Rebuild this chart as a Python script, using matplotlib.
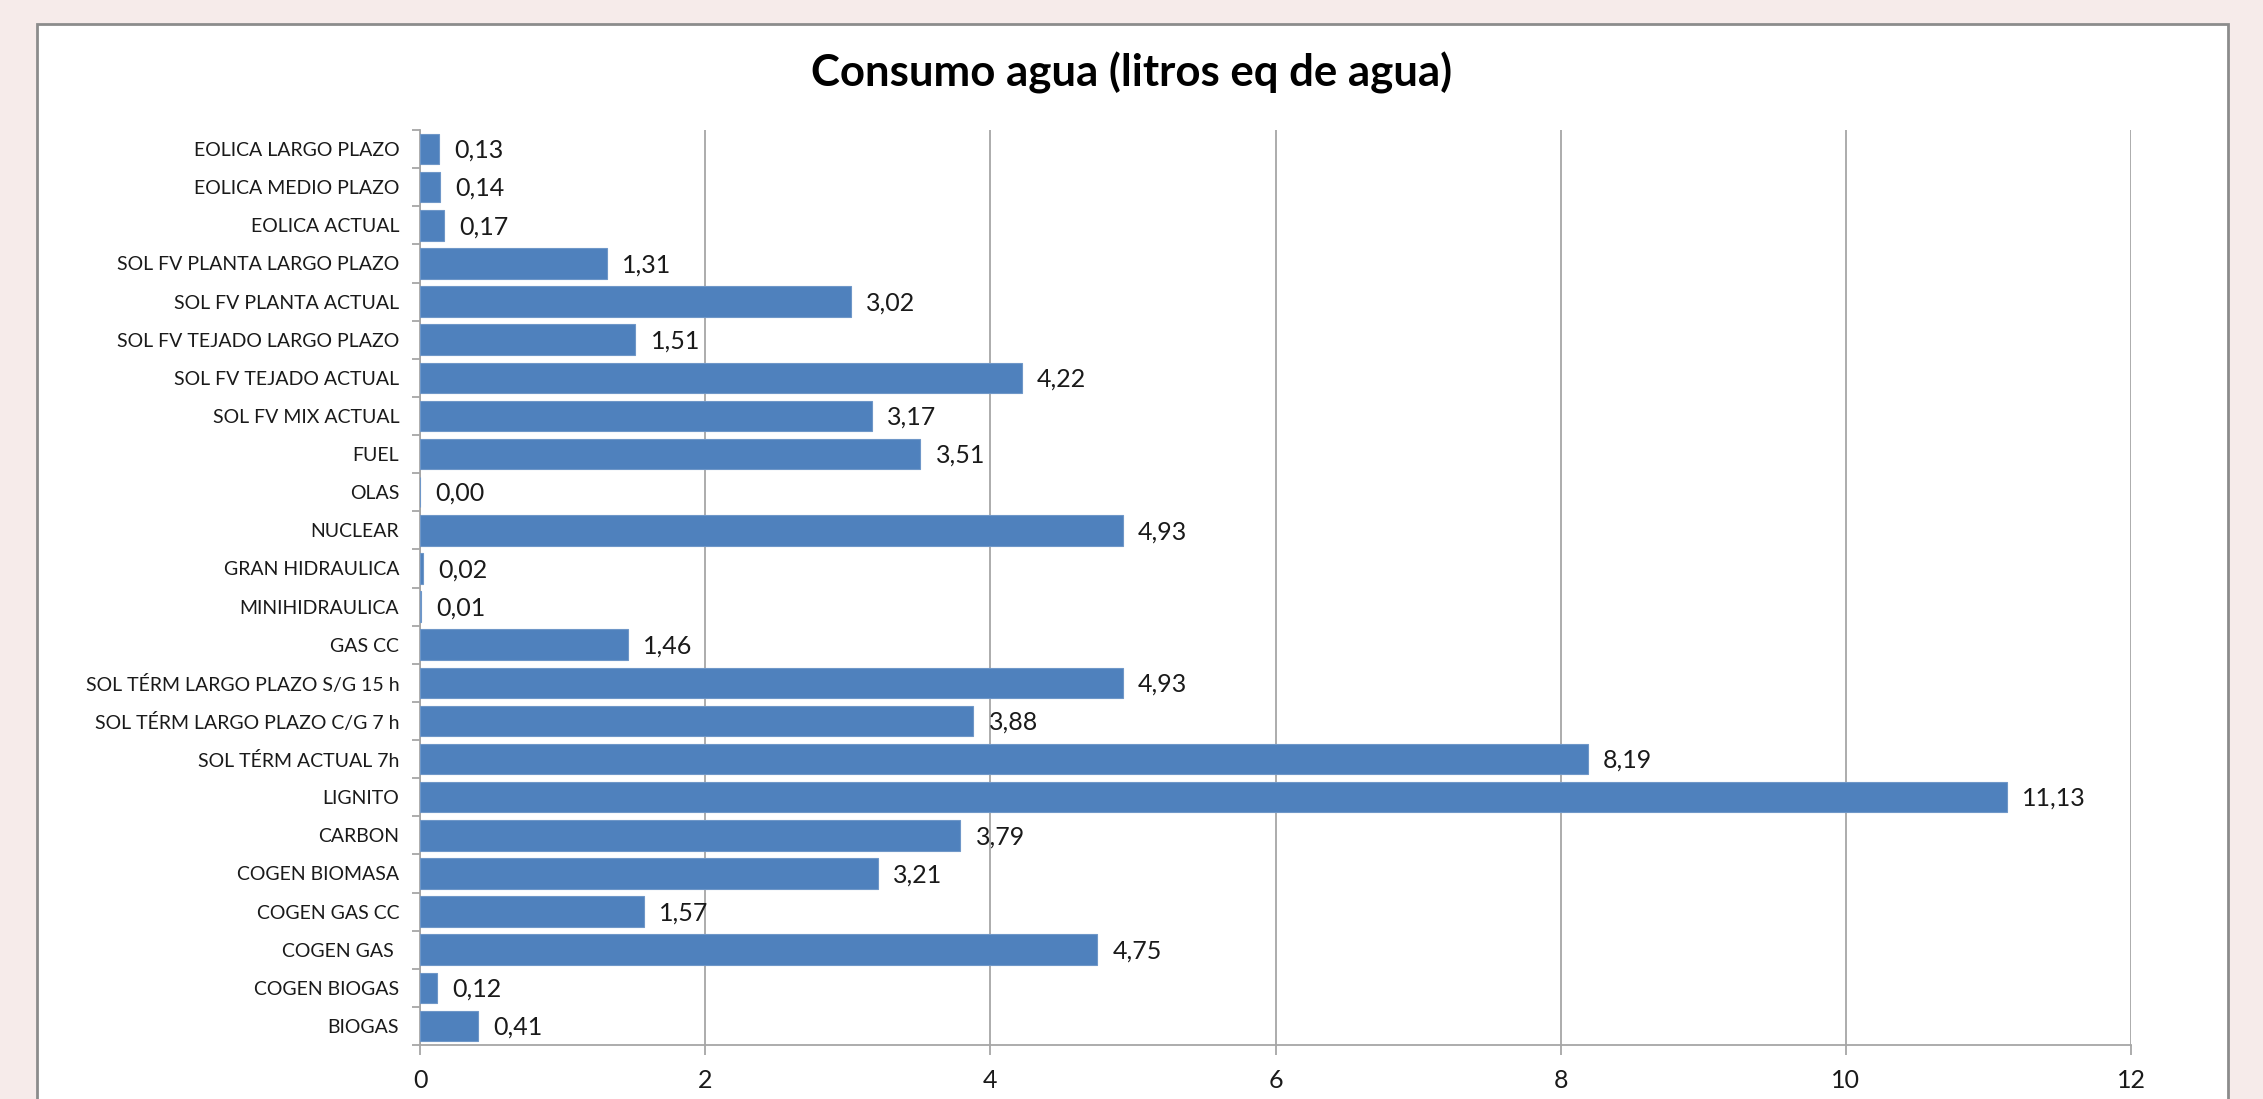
import matplotlib
matplotlib.use('Agg')
import matplotlib.pyplot as plt
from matplotlib.patches import Rectangle
import numpy as np

# Datos (de arriba hacia abajo)
categorias = [
    'EOLICA LARGO PLAZO', 'EOLICA MEDIO PLAZO', 'EOLICA ACTUAL',
    'SOL FV PLANTA LARGO PLAZO', 'SOL FV PLANTA ACTUAL',
    'SOL FV TEJADO LARGO PLAZO', 'SOL FV TEJADO ACTUAL', 'SOL FV MIX ACTUAL',
    'FUEL', 'OLAS', 'NUCLEAR', 'GRAN HIDRAULICA', 'MINIHIDRAULICA', 'GAS CC',
    'SOL TÉRM LARGO PLAZO S/G 15 h', 'SOL TÉRM LARGO PLAZO C/G 7 h',
    'SOL TÉRM ACTUAL 7h', 'LIGNITO', 'CARBON', 'COGEN BIOMASA',
    'COGEN GAS CC', 'COGEN GAS ', 'COGEN BIOGAS', 'BIOGAS',
]
consumo = [
    0.13, 0.14, 0.17, 1.31, 3.02, 1.51, 4.22, 3.17, 3.51, 0.00, 4.93, 0.02,
    0.01, 1.46, 4.93, 3.88, 8.19, 11.13, 3.79, 3.21, 1.57, 4.75, 0.12, 0.41,
]
x_ticks = [0, 2, 4, 6, 8, 10, 12]

W, H = 2263, 1099
plt.rcParams['font.family'] = ['Lato', 'DejaVu Sans']
fig = plt.figure(figsize=(W / 100, H / 100), dpi=100)
fig.patch.set_facecolor('#F6EBEA')

# marco blanco del gráfico
fig.patches.append(Rectangle((37 / W, -0.05), (2228 - 37) / W, 1 - 24 / H + 0.05,
                             transform=fig.transFigure, facecolor='white',
                             edgecolor='#8C8C8C', linewidth=2, zorder=-5))

ax = fig.add_axes([420 / W, 1 - 1045 / H, (2131 - 420) / W, (1045 - 130) / H])
ax.set_facecolor('none')
ax.set_zorder(2)

y = np.arange(len(categorias))
ax.barh(y, consumo, height=0.8, color='#4F81BD', edgecolor='#6F97C8',
        linewidth=0.8, zorder=3)

for yi, v in zip(y, consumo):
    ax.annotate(f'{v:.2f}'.replace('.', ','), (v, yi), xytext=(11, -1),
                textcoords='offset points', va='center', ha='left',
                fontsize=18, color='#1A1A1A')

ax.set_xlim(0, 12)
ax.set_ylim(len(categorias) - 0.5, -0.5)
ax.set_xticks(x_ticks)
ax.set_xticklabels([str(t) for t in x_ticks])
ax.set_yticks(y)
ax.set_yticklabels(categorias)
ax.set_yticks(np.arange(len(categorias) + 1) - 0.5, minor=True)

ax.xaxis.grid(True, color='#A6A6A6', linewidth=1.3, zorder=0)
ax.set_axisbelow(True)
for s in ['top', 'right']:
    ax.spines[s].set_visible(False)
for s in ['left', 'bottom']:
    ax.spines[s].set_color('#A6A6A6')
    ax.spines[s].set_linewidth(1.3)

ax.tick_params(axis='y', which='major', length=0, pad=15, labelsize=14,
               labelcolor='#1A1A1A')
ax.tick_params(axis='y', which='minor', length=6, width=1.3, color='#A6A6A6')
ax.tick_params(axis='x', length=7, width=1.3, color='#A6A6A6', pad=10,
               labelsize=18, labelcolor='#1A1A1A')

fig.text(1132 / W, 1 - 73 / H, 'Consumo agua (litros eq de agua)',
         ha='center', va='center', fontsize=31.5, fontweight='bold',
         color='black')

fig.savefig('out.png', dpi=100, facecolor=fig.get_facecolor())
